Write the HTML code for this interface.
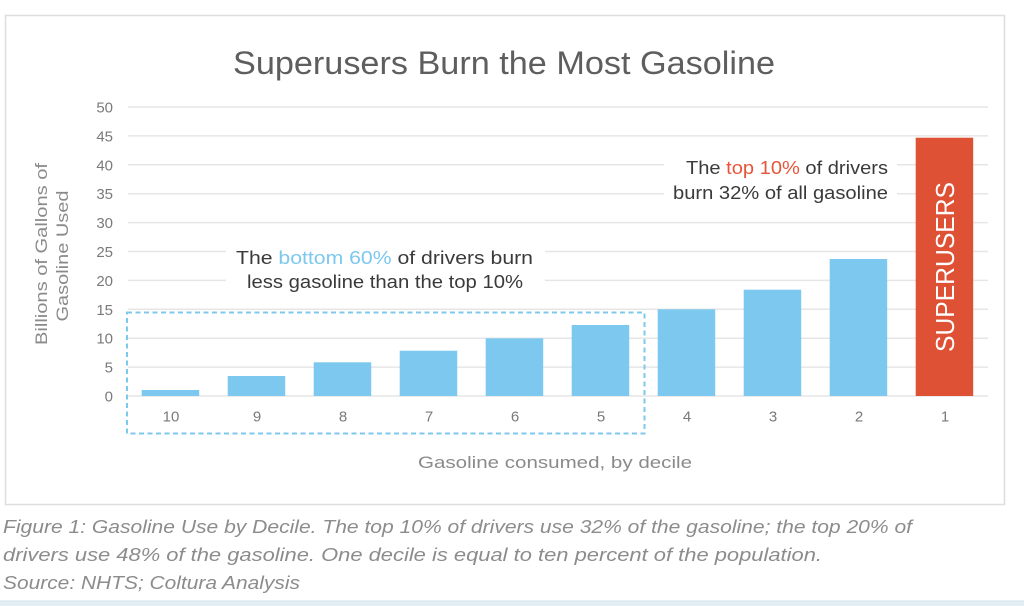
<!DOCTYPE html>
<html>
<head>
<meta charset="utf-8">
<style>
  html,body{margin:0;padding:0;background:#fff;}
  body{width:1024px;height:606px;overflow:hidden;}
  svg{display:block;font-family:"Liberation Sans",sans-serif;}
</style>
</head>
<body>
<svg width="1024" height="606" viewBox="0 0 1024 606" xmlns="http://www.w3.org/2000/svg">
  <rect x="0" y="0" width="1024" height="606" fill="#fff"/>
  <!-- frame -->
  <rect x="5.5" y="15.5" width="999" height="489" fill="#fff" stroke="#dedede" stroke-width="1.5"/>

  <!-- title -->
  <text x="233" y="74" font-size="32" fill="#5e5e5e" textLength="542" lengthAdjust="spacingAndGlyphs">Superusers Burn the Most Gasoline</text>

  <!-- gridlines -->
  <g stroke="#e6e6e6" stroke-width="1.5">
    <line x1="128" x2="988" y1="107" y2="107"/>
    <line x1="128" x2="988" y1="135.9" y2="135.9"/>
    <line x1="128" x2="988" y1="164.8" y2="164.8"/>
    <line x1="128" x2="988" y1="193.7" y2="193.7"/>
    <line x1="128" x2="988" y1="222.6" y2="222.6"/>
    <line x1="128" x2="988" y1="251.5" y2="251.5"/>
    <line x1="128" x2="988" y1="280.4" y2="280.4"/>
    <line x1="128" x2="988" y1="309.3" y2="309.3"/>
    <line x1="128" x2="988" y1="338.2" y2="338.2"/>
    <line x1="128" x2="988" y1="367.1" y2="367.1"/>
    <line x1="128" x2="988" y1="396" y2="396"/>
  </g>

  <!-- y tick labels -->
  <g font-size="15" fill="#7a7a7a" text-anchor="end">
    <text x="113" y="112.5">50</text>
    <text x="113" y="141.4">45</text>
    <text x="113" y="170.3">40</text>
    <text x="113" y="199.2">35</text>
    <text x="113" y="228.1">30</text>
    <text x="113" y="257">25</text>
    <text x="113" y="285.9">20</text>
    <text x="113" y="314.8">15</text>
    <text x="113" y="343.7">10</text>
    <text x="113" y="372.6">5</text>
    <text x="113" y="401.5">0</text>
  </g>

  <!-- y axis title -->
  <g font-size="17" fill="#8a8a8a" text-anchor="middle">
    <text transform="translate(47,254) rotate(-90)" textLength="182" lengthAdjust="spacingAndGlyphs">Billions of Gallons of</text>
    <text transform="translate(68,256) rotate(-90)" textLength="131" lengthAdjust="spacingAndGlyphs">Gasoline Used</text>
  </g>

  <!-- annotation backgrounds -->
  <rect x="226" y="244" width="319" height="46" fill="#fff"/>
  <rect x="664" y="157" width="233" height="44" fill="#fff"/>

  <!-- bars -->
  <g fill="#7cc8ee">
    <rect x="141.7" y="390" width="57.5" height="6"/>
    <rect x="227.7" y="376" width="57.5" height="20"/>
    <rect x="313.7" y="362.3" width="57.5" height="33.7"/>
    <rect x="399.7" y="350.7" width="57.5" height="45.3"/>
    <rect x="485.7" y="338.3" width="57.5" height="57.7"/>
    <rect x="571.7" y="325" width="57.5" height="71"/>
    <rect x="657.7" y="309.3" width="57.5" height="86.7"/>
    <rect x="743.7" y="289.7" width="57.5" height="106.3"/>
    <rect x="829.7" y="259" width="57.5" height="137"/>
  </g>
  <rect x="915.7" y="137.7" width="57.5" height="258.3" fill="#de5134"/>

  <!-- SUPERUSERS -->
  <text transform="translate(954,267) rotate(-90)" text-anchor="middle" font-size="26" fill="#fff" textLength="170" lengthAdjust="spacingAndGlyphs">SUPERUSERS</text>

  <!-- dashed box -->
  <rect x="127" y="312.5" width="517.5" height="121" fill="none" stroke="#7cc8ee" stroke-width="2" stroke-dasharray="5 3.5"/>

  <!-- x tick labels -->
  <g font-size="15" fill="#7a7a7a" text-anchor="middle">
    <text x="171" y="421.5">10</text>
    <text x="257" y="421.5">9</text>
    <text x="343" y="421.5">8</text>
    <text x="429" y="421.5">7</text>
    <text x="515" y="421.5">6</text>
    <text x="601" y="421.5">5</text>
    <text x="687" y="421.5">4</text>
    <text x="773" y="421.5">3</text>
    <text x="859" y="421.5">2</text>
    <text x="945" y="421.5">1</text>
  </g>

  <!-- x axis title -->
  <text x="418" y="468" font-size="17" fill="#8a8a8a" textLength="274" lengthAdjust="spacingAndGlyphs">Gasoline consumed, by decile</text>

  <!-- annotation 1 -->
  <g font-size="18" fill="#3a3a3a" text-anchor="end">
    <text x="888" y="174" textLength="202" lengthAdjust="spacingAndGlyphs">The <tspan fill="#e8553a">top 10%</tspan> of drivers</text>
    <text x="888" y="199" textLength="215" lengthAdjust="spacingAndGlyphs">burn 32% of all gasoline</text>
  </g>

  <!-- annotation 2 -->
  <g font-size="18" fill="#3a3a3a">
    <text x="236" y="264" textLength="297" lengthAdjust="spacingAndGlyphs">The <tspan fill="#7cc8ee">bottom 60%</tspan> of drivers burn</text>
    <text x="247" y="288" textLength="276" lengthAdjust="spacingAndGlyphs">less gasoline than the top 10%</text>
  </g>

  <!-- caption -->
  <g font-size="18" fill="#8c8c8c" font-style="italic">
    <text x="3" y="533" textLength="909" lengthAdjust="spacingAndGlyphs">Figure 1: Gasoline Use by Decile. The top 10% of drivers use 32% of the gasoline; the top 20% of</text>
    <text x="3" y="561" textLength="819" lengthAdjust="spacingAndGlyphs">drivers use 48% of the gasoline. One decile is equal to ten percent of the population.</text>
    <text x="3" y="589" textLength="297" lengthAdjust="spacingAndGlyphs">Source: NHTS; Coltura Analysis</text>
  </g>

  <!-- bottom strip -->
  <rect x="0" y="601" width="1024" height="5" fill="#e2edf4"/>
  <line x1="0" x2="1024" y1="601" y2="601" stroke="#d3e2ec" stroke-width="1"/>
</svg>
</body>
</html>
